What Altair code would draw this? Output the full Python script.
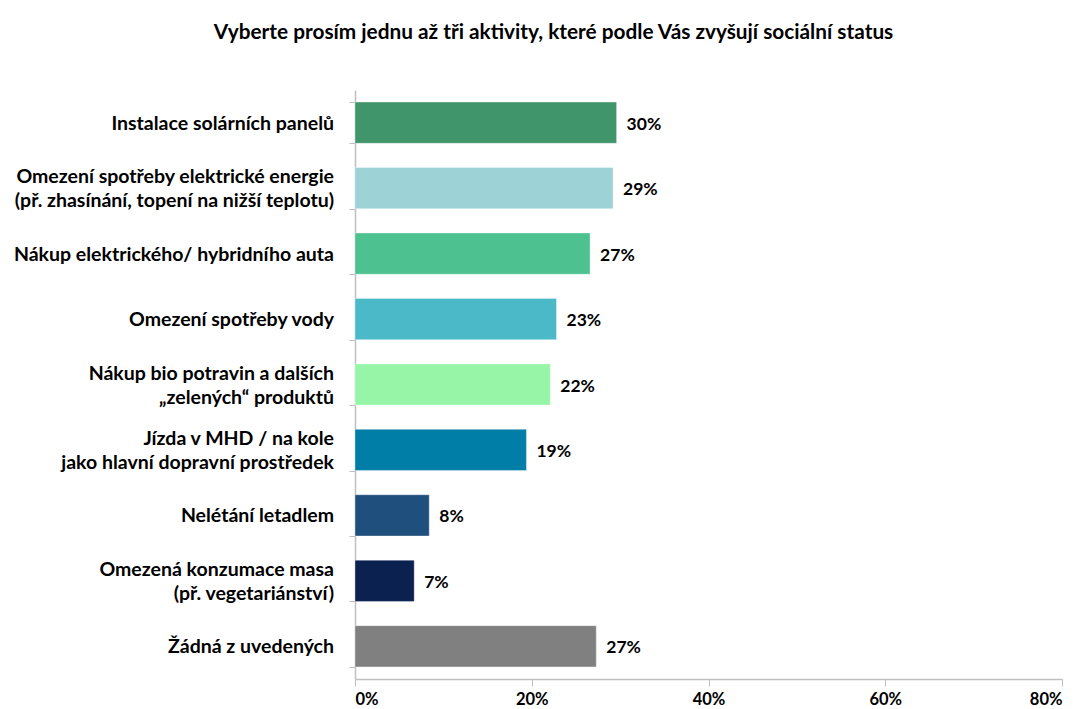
import altair as alt
import pandas as pd

categories = [
    "Instalace solárních panelů",
    "Omezení spotřeby elektrické energie\n(př. zhasínání, topení na nižší teplotu)",
    "Nákup elektrického/ hybridního auta",
    "Omezení spotřeby vody",
    "Nákup bio potravin a dalších\n„zelených“ produktů",
    "Jízda v MHD / na kole\njako hlavní dopravní prostředek",
    "Nelétání letadlem",
    "Omezená konzumace masa\n(př. vegetariánství)",
    "Žádná z uvedených",
]
values = [0.296, 0.292, 0.266, 0.228, 0.221, 0.194, 0.084, 0.067, 0.273]
colors = ["#41956A", "#9DD3D6", "#4DC290", "#4BB9C8", "#97F5A8", "#007EA7", "#1F507D", "#0B2150", "#808080"]
title_text = "Vyberte prosím jednu až tři aktivity, které podle Vás zvyšují sociální status"

df = pd.DataFrame({"cat": categories, "val": values})

# one row per label line, so that two-line labels can be centred on their band
line_rows = []
for c in categories:
    parts = c.split("\n")
    if len(parts) == 1:
        line_rows.append({"cat": c, "line": parts[0], "pos": "single"})
    else:
        line_rows.append({"cat": c, "line": parts[0], "pos": "first"})
        line_rows.append({"cat": c, "line": parts[1], "pos": "second"})
lines_df = pd.DataFrame(line_rows)

FONT = "Lato"

y_enc = alt.Y(
    "cat:N",
    sort=categories,
    title=None,
    scale=alt.Scale(paddingInner=0.37, paddingOuter=0.185),
    axis=alt.Axis(
        labels=False,
        tickBand="extent",
        tickSize=6,
        tickColor="#BFBFBF",
        domainColor="#BFBFBF",
        domainWidth=1.5,
    ),
)

x_enc = alt.X(
    "val:Q",
    title=None,
    scale=alt.Scale(domain=[0, 0.8], nice=False),
    axis=alt.Axis(
        values=[0, 0.2, 0.4, 0.6, 0.8],
        format=".0%",
        grid=False,
        labelFont=FONT,
        labelFontSize=16.5,
        labelFontWeight="bold",
        labelColor="#000000",
        labelPadding=5,
        tickSize=7,
        tickColor="#BFBFBF",
        domainColor="#BFBFBF",
        domainWidth=1.5,
    ),
)

bars = alt.Chart(df).mark_bar(stroke="#FFFFFF", strokeOpacity=0.35, strokeWidth=1).encode(
    y=y_enc,
    x=x_enc,
    color=alt.Color("cat:N", scale=alt.Scale(domain=categories, range=colors), legend=None),
)

text = alt.Chart(df).mark_text(
    align="left", baseline="middle", dx=10, dy=2, font=FONT, fontSize=17.5, fontWeight="bold", color="#000000"
).encode(
    y=alt.Y("cat:N", sort=categories),
    x="val:Q",
    text=alt.Text("val:Q", format=".0%"),
)


def label_layer(pos, dy):
    return (
        alt.Chart(lines_df)
        .transform_filter(alt.datum.pos == pos)
        .mark_text(
            align="right", baseline="middle", dy=dy, font=FONT, fontSize=19.5,
            fontWeight="bold", color="#000000",
        )
        .encode(
            y=alt.Y("cat:N", sort=categories),
            x=alt.value(-21),
            text="line:N",
        )
    )


labels = label_layer("single", 1) + label_layer("first", -11) + label_layer("second", 13)

chart = (
    alt.layer(bars, text, labels)
    .properties(
        width=707,
        height=589,
        autosize=alt.AutoSizeParams(type="none"),
        padding={"left": 347, "top": 82, "right": 8, "bottom": 30},
        title=alt.TitleParams(
            title_text,
            font=FONT,
            fontSize=20.8,
            fontWeight="bold",
            color="#000000",
            anchor="middle",
            dx=-155,
            offset=46,
        ),
    )
    .configure_view(stroke=None)
)

chart.save("out.html", embed_options={"renderer": "svg", "actions": False})
